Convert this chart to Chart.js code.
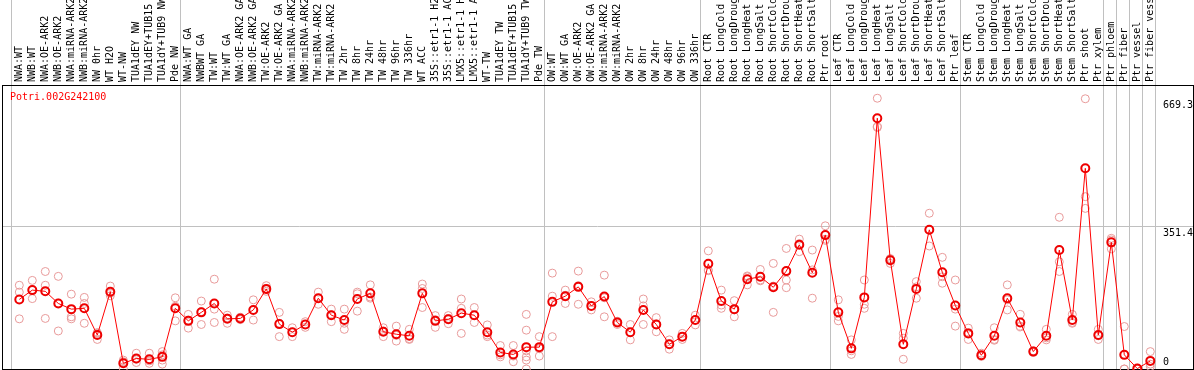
<!DOCTYPE html>
<html>
<head>
<meta charset="utf-8">
<script src="https://cdn.jsdelivr.net/npm/chart.js@4.4.0/dist/chart.umd.min.js"></script>
<style>
  html, body { margin: 0; padding: 0; background: #fff; }
  #wrap { width: 1194px; height: 370px; }
</style>
</head>
<body>
<div id="wrap"><canvas id="exprChart" width="1194" height="370"></canvas></div>
<script>
/*--data--*/
var geneId = 'Potri.002G242100';

var samples = [
  'NWA:WT', 'NWB:WT', 'NWA:OE-ARK2', 'NWB:OE-ARK2', 'NWA:miRNA-ARK2', 'NWB:miRNA-ARK2',
  'NW 0hr', 'WT H2O', 'WT-NW', 'TUA1dEY NW', 'TUA1dEY+TUB15', 'TUA1dY+TUB9 NW', 'Pde NW',
  'NWA:WT GA', 'NWBWT GA', 'TW:WT', 'TW:WT GA', 'NWA:OE-ARK2 GA', 'NWB:OE-ARK2 GA',
  'TW:OE-ARK2', 'TW:OE-ARK2 GA', 'NWA:miRNA-ARK2', 'NWB:miRNA-ARK2', 'TW:miRNA-ARK2',
  'TW:miRNA-ARK2', 'TW 2hr', 'TW 8hr', 'TW 24hr', 'TW 48hr', 'TW 96hr', 'TW 336hr',
  'WT ACC', '35S::etr1-1 H2', '35S::etr1-1 AC', 'LMX5::etr1-1 H', 'LMX5::etr1-1 A',
  'WT-TW', 'TUA1dEY TW', 'TUA1dEY+TUB15', 'TUA1dY+TUB9 TW', 'Pde TW',
  'OW:WT', 'OW:WT GA', 'OW:OE-ARK2', 'OW:OE-ARK2 GA', 'OW:miRNA-ARK2', 'OW:miRNA-ARK2',
  'OW 2hr', 'OW 8hr', 'OW 24hr', 'OW 48hr', 'OW 96hr', 'OW 336hr',
  'Root CTR', 'Root LongCold', 'Root LongDroug', 'Root LongHeat', 'Root LongSalt',
  'Root ShortCold', 'Root ShortDrou', 'Root ShortHeat', 'Root ShortSalt', 'Ptr root',
  'Leaf CTR', 'Leaf LongCold', 'Leaf LongDroug', 'Leaf LongHeat', 'Leaf LongSalt',
  'Leaf ShortCold', 'Leaf ShortDrou', 'Leaf ShortHeat', 'Leaf ShortSalt', 'Ptr leaf',
  'Stem CTR', 'Stem LongCold', 'Stem LongDroug', 'Stem LongHeat', 'Stem LongSalt',
  'Stem ShortCold', 'Stem ShortDrou', 'Stem ShortHeat', 'Stem ShortSalt', 'Ptr shoot',
  'Ptr xylem', 'Ptr phloem', 'Ptr fiber', 'Ptr vessel', 'Ptr fiber vess'
];

var means = [
  172, 195, 192, 162, 148, 150, 84, 191, 14, 26, 24, 30, 150,
  119, 140, 162, 124, 125, 146, 198, 111, 91, 110, 175, 133, 121, 173, 187, 92, 86, 82,
  187, 119, 123, 138, 133, 91, 41, 36, 54, 54,
  166, 180, 203, 156, 179, 115, 91, 146, 110, 61, 80, 121,
  260, 168, 148, 222, 228, 202, 242, 307, 238, 331,
  140, 51, 177, 620, 269, 61, 198, 344, 239, 157,
  88, 34, 82, 175, 115, 43, 82, 294, 121, 496, 84,
  313, 35, 1, 20
];

var replicates = [
  [207, 190, 124], [219, 195, 174], [241, 207, 125], [229, 163, 94], [185, 129, 124],
  [177, 162, 113], [90, 88, 73], [205, 187, 181], [22, 18, 1], [39, 24, 16],
  [39, 20, 14], [43, 35, 22, 12], [176, 155, 119],
  [135, 121, 101], [168, 142, 110], [222, 148, 115], [133, 126, 113], [128, 125, 122],
  [171, 146, 121], [206, 196, 192], [140, 113, 80], [102, 91, 80], [117, 110, 103],
  [190, 175, 160], [148, 134, 117], [148, 113, 98], [190, 186, 143], [208, 178, 175],
  [102, 94, 80], [106, 83, 69], [98, 75, 73], [210, 199, 152], [132, 122, 103],
  [132, 125, 112], [173, 150, 88], [152, 132, 115], [109, 84, 80], [58, 35, 30],
  [58, 32, 18], [135, 96, 45, 30, 22, 0], [80, 50, 32],
  [237, 180, 80], [195, 182, 162], [242, 206, 160], [166, 156, 146], [232, 176, 129],
  [118, 116, 110], [110, 90, 72], [173, 156, 110], [127, 111, 92], [72, 62, 49],
  [88, 80, 73], [133, 121, 109],
  [292, 245, 243], [195, 158, 150], [169, 146, 129], [230, 228, 208], [246, 220, 218],
  [261, 205, 140], [298, 220, 201], [321, 310, 290], [294, 245, 175], [354, 321, 318],
  [171, 130, 119], [72, 45, 36], [220, 160, 150], [669.3, 599, 597], [273, 272, 261],
  [88, 76, 24], [216, 203, 175], [385, 344, 304], [276, 228, 212], [220, 148, 106],
  [101, 90, 73], [39, 33, 31], [102, 73, 71], [208, 171, 146], [135, 106, 104],
  [45, 43, 41], [98, 77, 72], [375, 265, 241], [135, 115, 113], [668, 426, 397],
  [98, 82, 73], [323, 319, 297], [105, 0, 0], [2, 0, 0], [43, 12, 6]
];

var groupEnds = [-0.5, 12.5, 40.5, 52.5, 62.5, 72.5, 83.5, 84.5, 85.5, 86.5, 87.5];
var valueTicks = [0, 351.4, 669.3];
/*--------*/

var gridShift = -0.13;
var gridGray = '#c0c0c0';
var monoFont = 'DejaVu Sans Mono';

var boundaryTicks = groupEnds.map(function (b) { return b + gridShift; });
var topTicks = samples.map(function (s, i) { return i; })
  .concat(boundaryTicks)
  .sort(function (a, b) { return a - b; });

var meanPoints = means.map(function (v, i) { return { x: i, y: v }; });
var repPoints = [];
replicates.forEach(function (list, i) {
  list.forEach(function (v) { repPoints.push({ x: i, y: v }); });
});

// no extra layout padding from the axes, the frame is fixed
function noPad(scale) {
  scale.paddingLeft = 0;
  scale.paddingRight = 0;
  scale.paddingTop = 0;
  scale.paddingBottom = 0;
}

var geneTitle = {
  id: 'geneTitle',
  afterDraw: function (chart) {
    var ctx = chart.ctx;
    var area = chart.chartArea;
    ctx.save();
    ctx.font = '10px "' + monoFont + '"';
    ctx.fillStyle = '#ff0000';
    ctx.textBaseline = 'middle';
    ctx.textAlign = 'left';
    ctx.fillText(geneId, area.left + 8, area.top + 12);
    ctx.restore();
  }
};

var exprChart = new Chart('exprChart', {
  type: 'line',
  data: {
    datasets: [
      {
        label: 'mean',
        data: meanPoints,
        borderColor: '#ff0000',
        borderWidth: 1,
        pointRadius: 4,
        pointBorderWidth: 2,
        pointBorderColor: '#ee0000',
        pointBackgroundColor: 'rgba(0,0,0,0)',
        tension: 0,
        clip: 6,
        order: 0
      },
      {
        type: 'scatter',
        label: 'replicates',
        data: repPoints,
        pointRadius: 4,
        borderWidth: 1,
        borderColor: '#e89a9a',
        backgroundColor: 'rgba(0,0,0,0)',
        clip: 6,
        order: 1
      }
    ]
  },
  options: {
    responsive: false,
    animation: false,
    devicePixelRatio: 1,
    layout: { autoPadding: false, padding: { top: 0, left: 2, right: 1, bottom: 1 } },
    plugins: { legend: { display: false }, tooltip: { enabled: false } },
    scales: {
      x: {
        type: 'linear',
        position: 'top',
        min: -1.3308,
        max: 90.2846,
        afterBuildTicks: function (scale) {
          scale.ticks = topTicks.map(function (v) { return { value: v }; });
        },
        afterFit: function (scale) { scale.height = 85; noPad(scale); },
        ticks: {
          autoSkip: false,
          minRotation: 90,
          maxRotation: 90,
          padding: -82,
          labelOffset: 12,
          color: '#000',
          font: { family: monoFont, size: 10 },
          callback: function (v) { return Number.isInteger(v) ? samples[v] : ''; }
        },
        grid: {
          drawOnChartArea: true,
          drawTicks: true,
          tickLength: 85,
          lineWidth: 1,
          color: function (ctx) {
            var v = ctx.tick ? ctx.tick.value : 0;
            return Number.isInteger(v) ? 'rgba(0,0,0,0)' : gridGray;
          }
        },
        border: { display: true, color: '#000', width: 1 }
      },
      xb: {
        type: 'linear',
        axis: 'x',
        position: 'bottom',
        min: -1.3308,
        max: 90.2846,
        afterFit: function (scale) { scale.height = 0; noPad(scale); },
        ticks: { display: false },
        grid: { drawOnChartArea: false, drawTicks: false, color: 'rgba(0,0,0,0)' },
        border: { display: true, color: '#000', width: 1 }
      },
      y: {
        type: 'linear',
        position: 'right',
        min: 0,
        max: 702,
        afterBuildTicks: function (scale) {
          scale.ticks = valueTicks.map(function (v) { return { value: v }; });
        },
        afterFit: function (scale) { scale.width = 0; noPad(scale); },
        ticks: {
          mirror: true,
          crossAlign: 'far',
          padding: 0,
          color: '#000',
          font: { family: monoFont, size: 10, lineHeight: 1.4 },
          callback: function (v) { return v === 0 ? [String(v), ''] : ['', String(v)]; }
        },
        grid: {
          drawTicks: false,
          color: function (ctx) {
            var v = ctx.tick ? ctx.tick.value : 0;
            return v === 351.4 ? gridGray : 'rgba(0,0,0,0)';
          }
        },
        border: { display: true, color: '#000', width: 1 }
      },
      yl: {
        type: 'linear',
        axis: 'y',
        position: 'left',
        min: 0,
        max: 702,
        afterFit: function (scale) { scale.width = 0; noPad(scale); },
        ticks: { display: false },
        grid: { drawOnChartArea: false, drawTicks: false, color: 'rgba(0,0,0,0)' },
        border: { display: true, color: '#000', width: 1 }
      }
    }
  },
  plugins: [geneTitle]
});
</script>
</body>
</html>
